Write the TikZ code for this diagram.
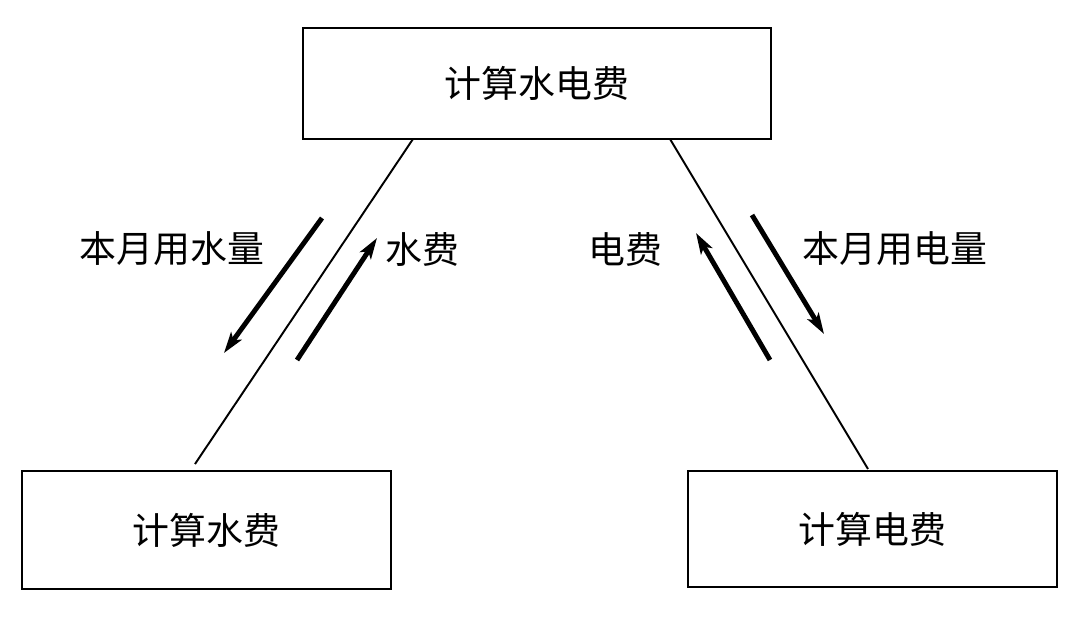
\documentclass[tikz,border=0pt]{standalone}
\usepackage{fontspec}
\newfontfamily\cjk{Noto Sans CJK SC}
\usetikzlibrary{arrows.meta}
\begin{document}
\begin{tikzpicture}[x=0.02cm, y=-0.02cm, line width=1.1pt,
  box/.style={draw, line width=1.1pt, inner sep=0pt},
  lbl/.style={font=\cjk\fontsize{21}{25}\selectfont},
  flow/.style={line width=2.8pt, -{Stealth[length=0.42cm, width=0.26cm, inset=0.1cm]}}]
  \useasboundingbox (0,0) rectangle (1071,622);
  \node[box, lbl, minimum width=9.36cm, minimum height=2.22cm] (top) at (537,83.5) {计算水电费};
  \node[box, lbl, minimum width=7.38cm, minimum height=2.36cm] (water) at (206.5,530) {计算水费};
  \node[box, lbl, minimum width=7.38cm, minimum height=2.32cm] (power) at (872.5,529) {计算电费};
  \coordinate (wa) at (413,139); \coordinate (wb) at (195,464);
  \coordinate (pa) at (670,139); \coordinate (pb) at (868,469);
  \draw (wa) -- (wb);
  \draw (pa) -- (pb);
  \coordinate (w1) at (322,218); \coordinate (w2) at (224,353);
  \coordinate (w3) at (297,360); \coordinate (w4) at (377,238);
  \coordinate (p1) at (770,360); \coordinate (p2) at (696,233);
  \coordinate (p3) at (752,215); \coordinate (p4) at (824,334);
  \draw[flow] (w1) -- (w2);
  \draw[flow] (w3) -- (w4);
  \draw[flow] (p1) -- (p2);
  \draw[flow] (p3) -- (p4);
  \node[lbl] (wq) at (172,249) {本月用水量};
  \node[lbl] (wf) at (422,249) {水费};
  \node[lbl] (pf) at (625,249) {电费};
  \node[lbl] (pq) at (895,249) {本月用电量};
\end{tikzpicture}
\end{document}
